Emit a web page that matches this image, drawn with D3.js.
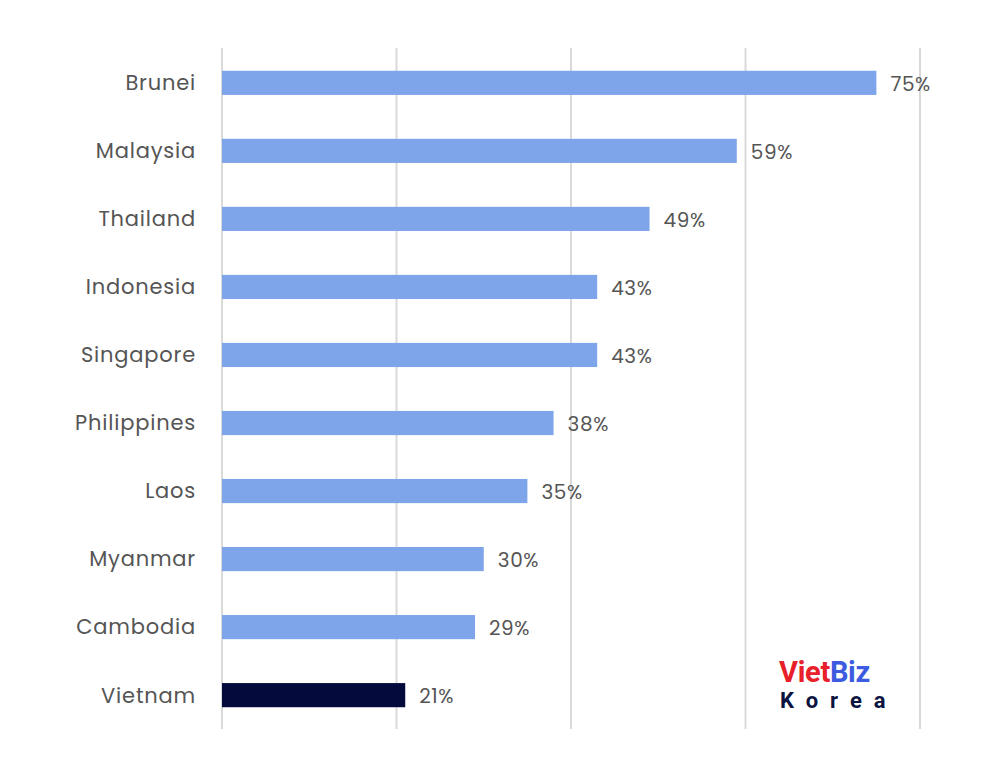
<!DOCTYPE html>
<html lang="en">
<head>
<meta charset="utf-8">
<script src="https://cdn.jsdelivr.net/npm/d3@7"></script>
<style>
  body{margin:0;background:#fff;font-family:Poppins,"Open Sans",sans-serif;}
</style>
</head>
<body>
<div id="chart"></div>
<script>
var countries = ["Brunei","Malaysia","Thailand","Indonesia","Singapore","Philippines","Laos","Myanmar","Cambodia","Vietnam"]
var values = [75,59,49,43,43,38,35,30,29,21]
var ticks = [0,20,40,60,80]

var w = 1000, h = 764
var svg = d3.select("#chart").append("svg").attr("width",w).attr("height",h)

var x = d3.scaleLinear().domain([0,80]).range([222,920])
var y = d3.scaleBand().domain(countries).range([49,729]).paddingInner(0.645).paddingOuter(0.32)

svg.selectAll(".grid").data(ticks).enter().append("line")
  .attr("x1",function(d){return x(d)}).attr("x2",function(d){return x(d)})
  .attr("y1",48).attr("y2",729)
  .attr("stroke","#d9d9d9").attr("stroke-width",2)

svg.selectAll(".bar").data(values).enter().append("rect")
  .attr("x",x(0))
  .attr("y",function(d,i){return y(countries[i])})
  .attr("width",function(d){return x(d)-x(0)})
  .attr("height",y.bandwidth())
  .attr("fill",function(d,i){return countries[i]=="Vietnam" ? "#050a3d" : "#7ea4e9"})

svg.selectAll(".lab").data(values).enter().append("text")
  .attr("x",function(d){return x(d)+14})
  .attr("y",function(d,i){return y(countries[i])+y.bandwidth()/2})
  .attr("dy","0.4em")
  .attr("font-size",20).attr("fill","#555").attr("letter-spacing",0.6)
  .text(function(d){return d+"%"})

svg.selectAll(".cat").data(countries).enter().append("text")
  .attr("x",196)
  .attr("y",function(d){return y(d)+y.bandwidth()/2})
  .attr("dy","0.35em")
  .attr("text-anchor","end")
  .attr("font-size",21).attr("fill","#555").attr("letter-spacing",0.8)
  .text(function(d){return d})

// logo
var logo = svg.append("text").attr("x",779).attr("y",682)
  .attr("font-size",29).attr("font-weight","bold").attr("font-family","Roboto, sans-serif")
  .attr("letter-spacing",-0.3)
logo.append("tspan").attr("fill","#e8202a").text("Viet")
logo.append("tspan").attr("fill","#3d5be0").text("Biz")
svg.append("text").attr("x",780).attr("y",708)
  .attr("font-size",22).attr("font-weight","bold").attr("font-family","Roboto, sans-serif")
  .attr("letter-spacing",12).attr("fill","#0b1340").text("Korea")
</script>
</body>
</html>
